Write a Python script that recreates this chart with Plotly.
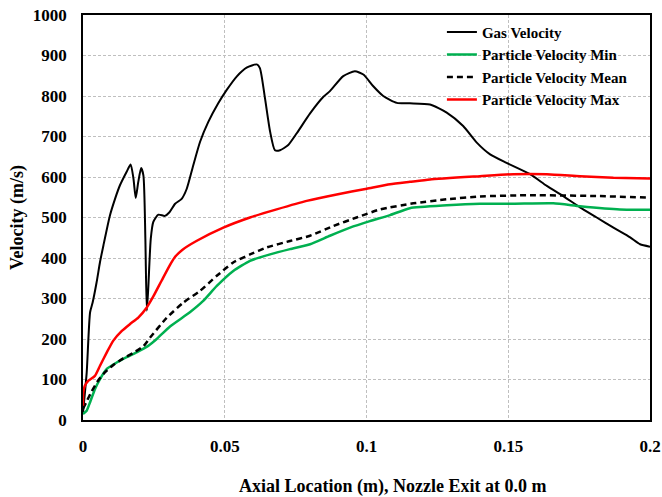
import plotly.graph_objects as go

# Gas velocity
gas_x = [0.0, 0.0013, 0.0025, 0.0034, 0.0048, 0.006, 0.0072, 0.0095, 0.0113, 0.013, 0.0154,
         0.0168, 0.0178, 0.0186, 0.0195, 0.0205, 0.0213, 0.022, 0.0225, 0.023, 0.0239, 0.0248,
         0.0266, 0.0289, 0.0305, 0.0325, 0.0348, 0.0366, 0.0389, 0.0413, 0.0442, 0.0477,
         0.0507, 0.0542, 0.0577, 0.0613, 0.0624, 0.0642, 0.066, 0.0677, 0.0695, 0.0724,
         0.0754, 0.0801, 0.0848, 0.0871, 0.0918, 0.0959, 0.0989, 0.1024, 0.1059, 0.1107,
         0.1153, 0.1224, 0.1283, 0.1341, 0.1389, 0.1436, 0.1494, 0.1577, 0.1636, 0.1694,
         0.1753, 0.1812, 0.1871, 0.193, 0.1965, 0.2]
gas_v = [18, 117, 266, 290, 340, 390, 431, 505, 546, 579, 613,
         631, 596, 548, 588, 622, 604, 447, 270, 323, 447, 489,
         507, 504, 513, 534, 546, 571, 629, 687, 736, 782,
         815, 848, 870, 878, 869, 794, 712, 666, 666, 679,
         708, 757, 798, 812, 849, 861, 853, 824, 800, 783,
         782, 779, 759, 726, 685, 656, 635, 607, 578, 553,
         525, 500, 475, 451, 434, 428]

# Particle velocity min
min_x = [0.0, 0.0013, 0.0025, 0.0042, 0.006, 0.0084, 0.0119, 0.0154, 0.0189, 0.023, 0.026,
         0.0307, 0.0377, 0.0424, 0.0472, 0.053, 0.0589, 0.066, 0.073, 0.0801, 0.0871,
         0.0942, 0.1012, 0.1083, 0.1153, 0.1283, 0.14, 0.1518, 0.1659, 0.1753, 0.1894, 0.2]
min_v = [15, 23, 44, 76, 101, 126, 142, 155, 167, 183, 200,
         231, 266, 294, 331, 368, 393, 409, 422, 434, 455,
         475, 491, 506, 523, 530, 534, 534, 535, 528, 520, 519]

# Particle velocity mean
mean_x = [0.0, 0.0013, 0.003, 0.0054, 0.0078, 0.0107, 0.0142, 0.0178, 0.0213, 0.0236,
          0.0295, 0.0354, 0.0413, 0.0472, 0.053, 0.0589, 0.0648, 0.073, 0.0801, 0.0883,
          0.0965, 0.1048, 0.1165, 0.1283, 0.14, 0.1577, 0.1812, 0.2]
mean_v = [28, 46, 70, 98, 118, 136, 152, 166, 182, 203,
          252, 290, 319, 356, 389, 409, 426, 442, 455, 479,
          500, 520, 535, 545, 552, 555, 553, 549]

# Particle velocity max
max_x = [0.0, 0.0001, 0.0007, 0.0019, 0.0042, 0.006, 0.0084, 0.0107, 0.0137, 0.0166, 0.0195,
         0.0225, 0.0248, 0.0278, 0.0307, 0.0325, 0.035, 0.04, 0.0495, 0.0589, 0.0683,
         0.0789, 0.0895, 0.1001, 0.1083, 0.1153, 0.1224, 0.14, 0.1518, 0.1636, 0.1753,
         0.1871, 0.2]
max_v = [35, 68, 85, 97, 109, 134, 167, 196, 220, 237, 253,
         278, 305, 345, 383, 403, 420, 442, 475, 500, 520,
         541, 557, 571, 582, 588, 594, 602, 607, 607, 602,
         598, 596]

x_ticks = [0, 0.05, 0.1, 0.15, 0.2]
x_tick_labels = ["0", "0.05", "0.1", "0.15", "0.2"]
y_ticks = [0, 100, 200, 300, 400, 500, 600, 700, 800, 900, 1000]

FONT = "Liberation Serif"

fig = go.Figure()
fig.add_trace(go.Scatter(x=gas_x, y=gas_v, mode="lines", name="<b>Gas Velocity</b>",
                         line=dict(color="black", width=2, shape="spline", smoothing=0.6),
                         legendgroup="a"))
fig.add_trace(go.Scatter(x=min_x, y=min_v, mode="lines", name="<b>Particle Velocity Min</b>",
                         line=dict(color="#00B050", width=2.5, shape="spline", smoothing=0.5),
                         legendgroup="b"))
fig.add_trace(go.Scatter(x=mean_x, y=mean_v, mode="lines", name="<b>Particle Velocity Mean</b>",
                         line=dict(color="black", width=2.5, dash="6px,4px", shape="spline", smoothing=0.5),
                         legendgroup="c"))
fig.add_trace(go.Scatter(x=max_x, y=max_v, mode="lines", name="<b>Particle Velocity Max</b>",
                         line=dict(color="#FF0000", width=2.5, shape="spline", smoothing=0.5),
                         legendgroup="d"))

fig.update_layout(
    width=662, height=497,
    margin=dict(l=83, r=12, t=15, b=77),
    paper_bgcolor="white", plot_bgcolor="white",
    font=dict(family=FONT, color="black", size=17),
    showlegend=True,
    legend=dict(x=0.633, y=0.998, xanchor="left", yanchor="top",
                bgcolor="rgba(0,0,0,0)", font=dict(family=FONT, size=15, color="black"),
                tracegroupgap=0),
    xaxis=dict(range=[0, 0.2], tickvals=x_ticks, ticktext=[f"<b>{t}</b>" for t in x_tick_labels],
               showgrid=True, gridcolor="#BFBFBF", griddash="3px,2px", gridwidth=1,
               showline=True, linecolor="black", linewidth=1.5, mirror=True,
               ticks="", ticklabelstandoff=10, zeroline=False, automargin=False,
               tickfont=dict(size=17)),
    yaxis=dict(range=[0, 1000], tickvals=y_ticks, ticktext=[f"<b>{t}</b>" for t in y_ticks],
               showgrid=True, gridcolor="#BFBFBF", griddash="3px,2px", gridwidth=1,
               showline=True, linecolor="black", linewidth=1.5, mirror=True,
               ticks="", ticklabelstandoff=11, zeroline=False, automargin=False,
               tickfont=dict(size=17),
               title=dict(text="<b>Velocity (m/s)</b>", standoff=5, font=dict(size=18))),
    annotations=[dict(text="<b>Axial Location (m), Nozzle Exit at 0.0 m</b>",
                      xref="paper", yref="paper", x=0.546, y=-0.165,
                      xanchor="center", yanchor="middle", showarrow=False,
                      font=dict(family=FONT, size=18, color="black"))],
)

fig.write_html("out.html", config={"displayModeBar": False},
               post_script="document.body.style.margin='0px';")
